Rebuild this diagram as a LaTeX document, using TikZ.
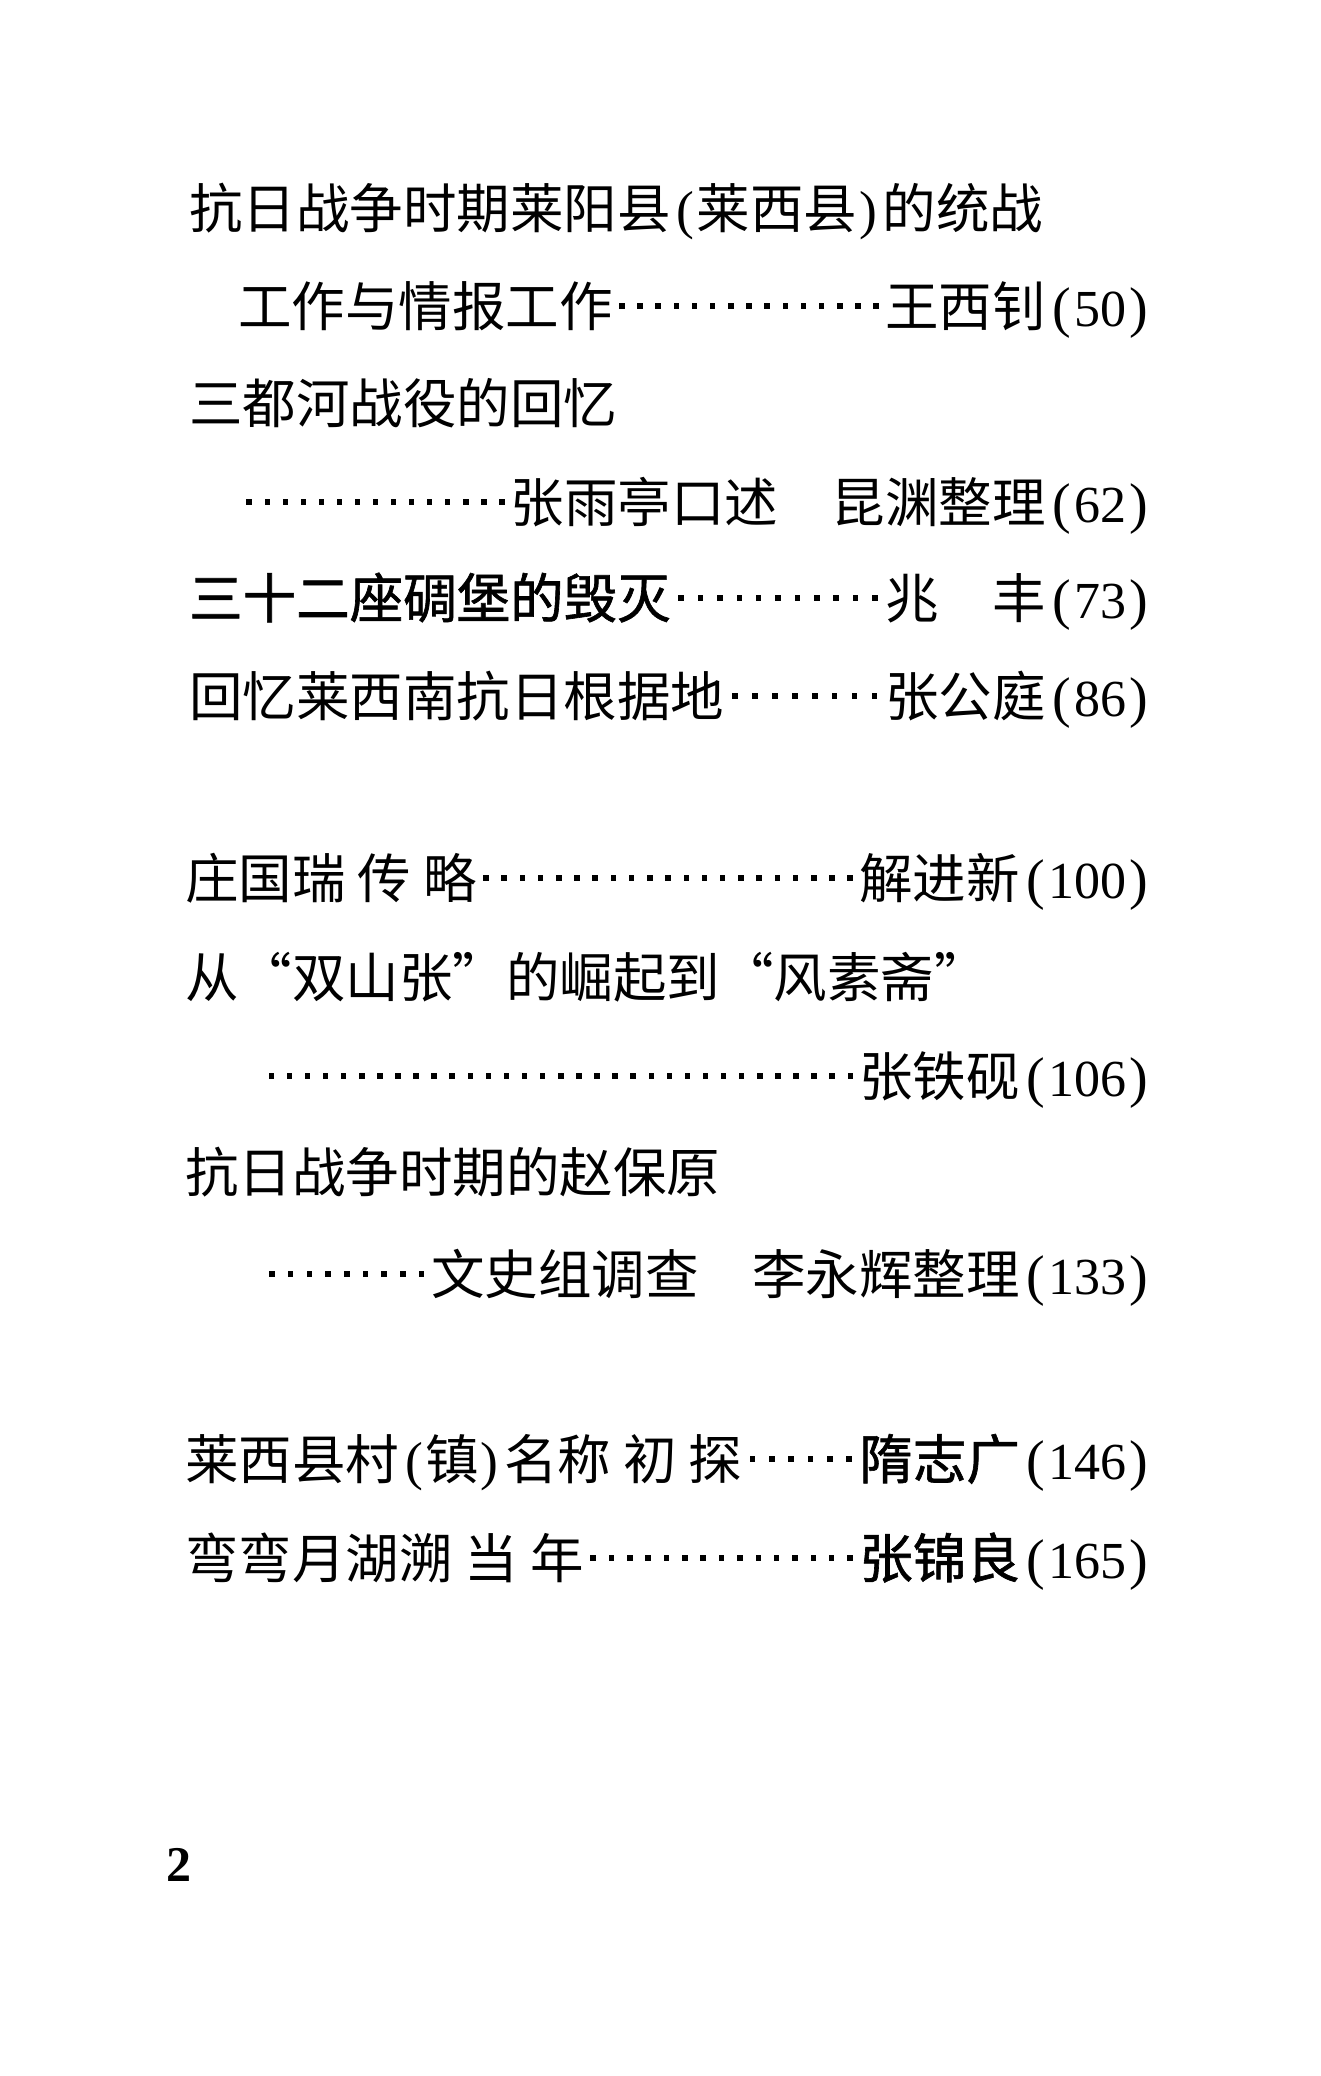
\documentclass[tikz,border=0pt]{standalone}
\usepackage{fontspec}
\setmainfont{Noto Sans CJK SC}
\newfontfamily\semib[FakeBold=1.2]{Noto Sans CJK SC}
\newfontfamily\numf{Liberation Serif}
\newcommand\tocdots{\xleaders\hbox to 18pt{\hss\raisebox{17pt}{\rule{5.5pt}{6.5pt}}\hss}\hfill}
\newcommand\pg[1]{\kern7pt{\numf\fontsize{56}{60}\selectfont(}\kern3pt{\numf\fontsize{52}{56}\selectfont #1}\kern3pt{\numf\fontsize{56}{60}\selectfont)}}
\newcommand\tp[1]{\kern6pt{\numf(}\kern2pt#1\kern2pt{\numf)}\kern6pt}
\newcommand\gap{\kern12pt}
\tikzset{
  toc/.style={font=\fontsize{53.5}{60}\selectfont, inner sep=0pt, anchor=base west},
  pagenum/.style={font=\numf\bfseries\fontsize{50}{56}\selectfont, inner sep=0pt, anchor=base west}
}
\begin{document}
\begin{tikzpicture}[x=1pt,y=1pt]
\useasboundingbox (0,0) rectangle (1320,-2076);
\node[toc] (l1) at (189,-229) {抗日战争时期莱阳县\tp{莱西县}的统战};
\node[toc] (l2) at (238,-326) {\hbox to 910pt{工作与情报工作\tocdots 王西钊\pg{50}}};
\node[toc] (l3) at (189,-423) {三都河战役的回忆};
\node[toc] (l4) at (240,-522) {\hbox to 908pt{\tocdots 张雨亭口述　昆渊整理\pg{62}}};
\node[toc] (l5) at (189,-618) {\hbox to 959pt{{\semib 三十二座碉堡的毁灭}\tocdots 兆　丰\pg{73}}};
\node[toc] (l6) at (189,-716) {\hbox to 959pt{回忆莱西南抗日根据地\tocdots 张公庭\pg{86}}};
\node[toc] (l7) at (185,-898) {\hbox to 963pt{庄国瑞\gap 传\gap 略\tocdots 解进新\pg{100}}};
\node[toc] (l8) at (185,-997) {从“双山张”的崛起到“风素斋”};
\node[toc] (l9) at (262,-1096) {\hbox to 886pt{\tocdots 张铁砚\pg{106}}};
\node[toc] (l10) at (185,-1192) {抗日战争时期的赵保原};
\node[toc] (l11) at (262,-1294) {\hbox to 886pt{\tocdots 文史组调查　李永辉整理\pg{133}}};
\node[toc] (l12) at (185,-1479) {\hbox to 963pt{莱西县村\tp{镇}名称\gap 初\gap 探\tocdots{\semib 隋志广}\pg{146}}};
\node[toc] (l13) at (185,-1578) {\hbox to 963pt{弯弯月湖溯\gap 当\gap 年\tocdots{\semib 张锦良}\pg{165}}};
\node[pagenum] (pn) at (166,-1881) {2};
\end{tikzpicture}
\end{document}
